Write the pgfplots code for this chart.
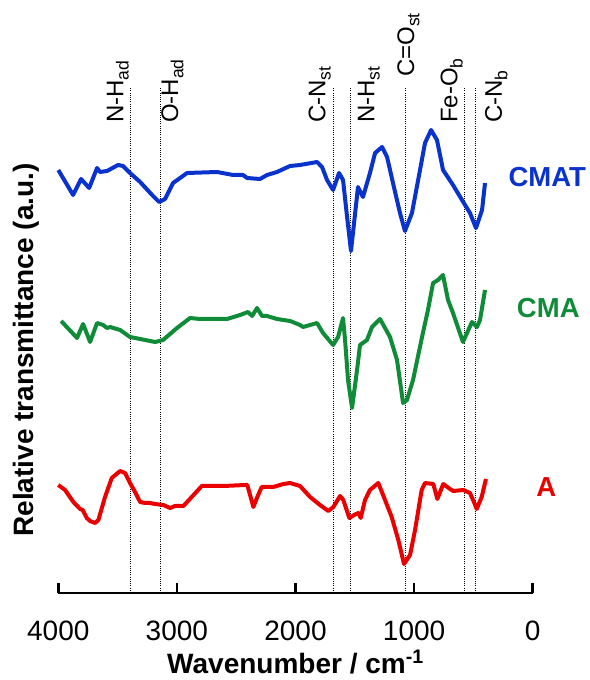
\documentclass[border=0pt]{standalone}
\usepackage{pgfplots}
\pgfplotsset{compat=1.18}
\usepackage{fontspec}
\setmainfont{Liberation Sans}
\definecolor{cblue}{RGB}{10,50,205}
\definecolor{cgreen}{RGB}{16,140,56}
\definecolor{cred}{RGB}{235,0,0}
\newcommand{\pk}{\fontsize{24}{28}\selectfont}
\newcommand{\sub}[1]{\raisebox{-0.22em}{\fontsize{17.5}{20}\selectfont #1}}
\begin{document}
\begin{tikzpicture}
\useasboundingbox (-58.3pt,-87pt) rectangle (530.7pt,593pt);
\begin{axis}[
  scale only axis, width=474.4pt, height=593pt,
  xmin=0, xmax=4000, ymin=0, ymax=593, x dir=reverse,
  axis x line=bottom, axis y line=none,
  axis line style={-, line width=2.5pt, black},
  xtick={0,1000,2000,3000,4000},
  tick align=inside, major tick length=10pt,
  xtick style={line width=2.5pt, black},
  /pgf/number format/assume math mode=true,
  /pgf/number format/set thousands separator={},
  xticklabel style={font=\fontsize{28}{32}\selectfont, inner sep=0pt, anchor=north, yshift=-28pt},
  xlabel={\textbf{Wavenumber / cm\textsuperscript{-1}}},
  xlabel style={font=\fontsize{28}{32}\selectfont, at={(axis description cs:0.5,0)}, anchor=base, yshift=-80pt},
  clip=false,
]
% dotted guide lines
\foreach \w in {3390,3136,1681,1540,1077,573,481}{
  \edef\tmp{\noexpand\addplot[black, line width=0.9pt, dash pattern=on 1pt off 1.2pt] coordinates {(\w,0) (\w,506)};}
  \tmp
}
% CMAT
\addplot[cblue, line width=4pt, line join=round] coordinates {
(4000,423)(3875,398)(3808,414)(3740,405)(3673,425)(3648,421)(3589,422)(3496,428)(3454,427)(3395,420)
(3310,411)(3209,398)(3150,391)(3100,394)(3032,410)(2914,420)(2661,421)(2526,418)(2442,418)(2408,415)
(2299,414)(2240,418)(2156,421)(2046,427)(1962,428)(1818,431)(1776,426)(1734,413)(1683,403)(1633,420)
(1599,413)(1565,376)(1532,342)(1473,406)(1431,396)(1372,420)(1329,440)(1270,446)(1228,436)(1178,410)
(1119,380)(1077,362)(1018,380)(950,423)(908,450)(857,463)(807,453)(756,423)(672,408)(596,393)
(529,380)(478,365)(427,383)(402,410)};
% CMA
\addplot[cgreen, line width=4pt, line join=round] coordinates {
(3976,272)(3842,255)(3791,269)(3732,251)(3673,270)(3622,268)(3589,265)(3563,266)(3479,263)(3395,256)
(3310,254)(3184,251)(3117,253)(2999,265)(2889,275)(2805,274)(2577,274)(2467,278)(2400,281)(2366,277)
(2324,285)(2282,277)(2240,277)(2156,274)(2046,272)(1962,268)(1936,266)(1818,270)(1768,260)(1683,248)
(1641,256)(1599,275)(1582,253)(1557,213)(1523,185)(1481,223)(1456,248)(1397,253)(1355,266)(1287,274)
(1203,256)(1144,233)(1093,190)(1060,193)(1009,213)(933,256)(883,283)(840,310)(798,313)(756,318)
(714,293)(672,280)(588,251)(512,271)(470,266)(444,273)(402,303)};
% A
\addplot[cred, line width=4pt, line join=round] coordinates {
(4000,108)(3943,103)(3873,91)(3816,84)(3794,83)(3760,75)(3732,72)(3690,70)(3662,73)(3606,96)
(3549,115)(3479,122)(3437,120)(3395,110)(3353,101)(3310,91)(3268,90)(3226,90)(3184,89)(3114,88)
(3058,85)(3015,87)(2945,87)(2875,96)(2790,107)(2608,107)(2425,108)(2406,108)(2383,98)(2355,86)
(2322,96)(2285,106)(2187,106)(2102,109)(2046,110)(1962,107)(1877,96)(1793,88)(1723,82)(1681,86)
(1624,97)(1597,93)(1546,75)(1506,78)(1470,80)(1450,75)(1414,93)(1372,103)(1302,110)(1245,93)
(1189,76)(1133,53)(1085,29)(1034,38)(992,63)(936,103)(908,110)(838,109)(804,94)(754,109)
(697,104)(669,102)(585,103)(529,100)(492,90)(472,84)(430,96)(394,114)};
% peak labels
\node[rotate=90, anchor=south west, inner sep=0pt, font=\pk] at (axis cs:3403,470) {N-H\sub{ad}};
\node[rotate=90, anchor=north west, inner sep=0pt, font=\pk] at (axis cs:3133,470) {O-H\sub{ad}};
\node[rotate=90, anchor=south west, inner sep=0pt, font=\pk] at (axis cs:1700,470) {C-N\sub{st}};
\node[rotate=90, anchor=north west, inner sep=0pt, font=\pk] at (axis cs:1476,470) {N-H\sub{st}};
\node[rotate=90, anchor=base west, inner sep=0pt, font=\pk] at (axis cs:1000,516) {C=O\sub{st}};
\node[rotate=90, anchor=south west, inner sep=0pt, font=\pk] at (axis cs:588,470) {Fe-O\sub{b}};
\node[rotate=90, anchor=north west, inner sep=0pt, font=\pk] at (axis cs:402,470) {C-N\sub{b}};
\end{axis}
% y label and series labels
\node[rotate=90, anchor=north, inner sep=0pt, font=\fontsize{28}{32}\selectfont\bfseries] at (-45.3pt,243pt) {Relative transmittance (a.u.)};
\node[anchor=base, inner sep=0pt, font=\fontsize{27.5}{32}\selectfont\bfseries, text=cblue] at (489pt,406pt) {CMAT};
\node[anchor=base, inner sep=0pt, font=\fontsize{27.5}{32}\selectfont\bfseries, text=cgreen] at (490pt,275pt) {CMA};
\node[anchor=base, inner sep=0pt, font=\fontsize{27.5}{32}\selectfont\bfseries, text=cred] at (488pt,96pt) {A};
\end{tikzpicture}
\end{document}
